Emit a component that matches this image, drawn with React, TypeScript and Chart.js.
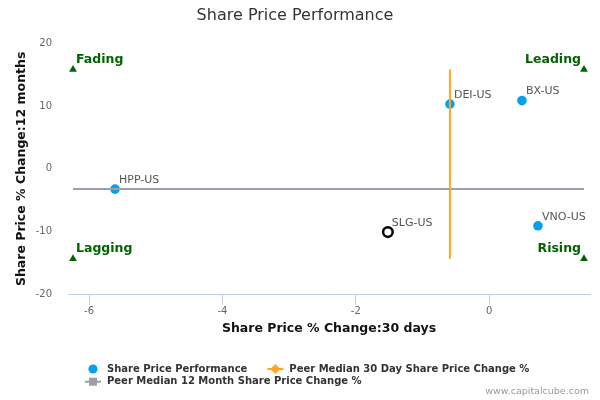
import React, { useEffect, useRef } from 'react';
import { Chart, registerables } from 'chart.js';

Chart.register(...registerables);

// ---- Data ----
const companies = ['HPP-US', 'DEI-US', 'BX-US', 'SLG-US', 'VNO-US'];
const change30d = [-5.61, -0.59, 0.49, -1.52, 0.73];
const change12m = [-3.22, 10.3, 10.85, -10.05, -9.05];
const highlighted = 'SLG-US';

const peerMedian30d = -0.59;
const peerMedian12m = -3.22;

const quadrantLabels = ['Fading', 'Leading', 'Lagging', 'Rising'];
const quadrantX = [-6.24, 1.42, -6.24, 1.42];
const quadrantY = [15.8, 15.8, -14.3, -14.3];

const xTickValues = [-6, -4, -2, 0];
const yTickValues = [-20, -10, 0, 10, 20];
const xRange = [-6.315, 1.51];
const yRange = [-20, 20];

const titleText = 'Share Price Performance';
const xTitle = 'Share Price % Change:30 days';
const yTitle = 'Share Price % Change:12 months';
const legendLabels = [
  'Share Price Performance',
  'Peer Median 30 Day Share Price Change %',
  'Peer Median 12 Month Share Price Change %',
];
const creditText = 'www.capitalcube.com';

// ---- Styles ----
const FONT = '"DejaVu Sans", Verdana, sans-serif';
const BLUE = '#08a0ee';
const ORANGE = '#ffa51f';
const GRAY = '#9a9fab';
const GREEN = '#006400';

export default function App() {
  const ref = useRef<HTMLCanvasElement>(null);

  useEffect(() => {
    document.body.style.margin = '0';
    const canvas = ref.current!;

    const annotations = {
      id: 'annotations',
      afterDatasetsDraw(chart: any) {
        const { ctx, scales } = chart;
        const x = scales.x;
        const y = scales.y;
        ctx.save();
        // point labels
        ctx.font = `11px ${FONT}`;
        ctx.fillStyle = '#555';
        ctx.textBaseline = 'middle';
        ctx.textAlign = 'left';
        companies.forEach((c, i) => {
          const px = x.getPixelForValue(change30d[i]);
          const py = y.getPixelForValue(change12m[i]);
          ctx.fillText(c, px + 4, py - 9);
        });
        // quadrant labels
        ctx.font = `bold 12.5px ${FONT}`;
        ctx.fillStyle = GREEN;
        quadrantLabels.forEach((q, i) => {
          const px = x.getPixelForValue(quadrantX[i]);
          const py = y.getPixelForValue(quadrantY[i]);
          const isLeft = i % 2 === 0;
          ctx.textAlign = isLeft ? 'left' : 'right';
          ctx.fillText(q, isLeft ? px + 3 : px - 3, py - 10);
        });
        ctx.restore();
      },
      afterDraw(chart: any) {
        const { ctx } = chart;
        ctx.save();
        ctx.font = `bold 10px ${FONT}`;
        ctx.textBaseline = 'middle';
        ctx.textAlign = 'left';
        const row1 = 369;
        const row2 = 381.7;
        const startX = 85;
        // item 1: blue circle
        ctx.fillStyle = BLUE;
        ctx.beginPath();
        ctx.arc(startX + 8, row1, 4.6, 0, Math.PI * 2);
        ctx.fill();
        ctx.fillStyle = '#333';
        ctx.fillText(legendLabels[0], startX + 22, row1);
        const w1 = ctx.measureText(legendLabels[0]).width;
        // item 2: orange line with diamond
        const x2 = startX + 22 + w1 + 20;
        ctx.strokeStyle = ORANGE;
        ctx.lineWidth = 2;
        ctx.beginPath();
        ctx.moveTo(x2, row1);
        ctx.lineTo(x2 + 16, row1);
        ctx.stroke();
        ctx.fillStyle = ORANGE;
        ctx.beginPath();
        ctx.moveTo(x2 + 8, row1 - 5);
        ctx.lineTo(x2 + 13, row1);
        ctx.lineTo(x2 + 8, row1 + 5);
        ctx.lineTo(x2 + 3, row1);
        ctx.closePath();
        ctx.fill();
        ctx.fillStyle = '#333';
        ctx.fillText(legendLabels[1], x2 + 22, row1);
        // item 3: gray line with square
        ctx.strokeStyle = GRAY;
        ctx.beginPath();
        ctx.moveTo(startX, row2);
        ctx.lineTo(startX + 16, row2);
        ctx.stroke();
        ctx.fillStyle = GRAY;
        ctx.fillRect(startX + 4, row2 - 4, 8, 8);
        ctx.fillStyle = '#333';
        ctx.fillText(legendLabels[2], startX + 22, row2);
        // credits
        ctx.font = `9.5px ${FONT}`;
        ctx.fillStyle = '#999';
        ctx.textAlign = 'right';
        ctx.fillText(creditText, 589, 392);
        ctx.restore();
      },
    };

    const pointColors = companies.map((c) => (c === highlighted ? '#ffffff' : BLUE));
    const pointBorders = companies.map((c) => (c === highlighted ? '#000000' : BLUE));
    const pointBorderWidths = companies.map((c) => (c === highlighted ? 2.5 : 0));

    const yMedLine = [Math.max(...quadrantY), Math.min(...quadrantY)];
    const xMedLine = [Math.min(...quadrantX), Math.max(...quadrantX)];

    const chart = new Chart(canvas, {
      type: 'scatter',
      data: {
        datasets: [
          {
            label: legendLabels[1],
            type: 'line',
            data: yMedLine.map((v) => ({ x: peerMedian30d, y: v })),
            borderColor: ORANGE,
            borderWidth: 2,
            pointRadius: 0,
            order: 1,
          } as any,
          {
            label: legendLabels[2],
            type: 'line',
            data: xMedLine.map((v) => ({ x: v, y: peerMedian12m })),
            borderColor: GRAY,
            borderWidth: 2,
            pointRadius: 0,
            order: 1,
          } as any,
          {
            label: legendLabels[0],
            data: companies.map((_, i) => ({ x: change30d[i], y: change12m[i] })),
            backgroundColor: pointColors,
            borderColor: pointBorders,
            borderWidth: pointBorderWidths,
            pointRadius: 4.8,
            order: 2,
          },
          {
            label: 'Quadrants',
            data: quadrantLabels.map((_, i) => ({ x: quadrantX[i], y: quadrantY[i] })),
            backgroundColor: GREEN,
            borderColor: GREEN,
            borderWidth: 0,
            pointStyle: 'triangle',
            pointRadius: 4.5,
            order: 3,
          },
        ],
      },
      options: {
        animation: false,
        responsive: false,
        devicePixelRatio: 1,
        layout: { padding: { left: 0, right: 10, top: 0, bottom: 64.2 } },
        plugins: {
          legend: { display: false },
          tooltip: { enabled: false },
          title: {
            display: true,
            text: titleText,
            color: '#333',
            font: { family: FONT, size: 16, weight: 'normal', lineHeight: 1.2 },
            padding: { top: 6.4, bottom: 17.4 },
          },
        },
        scales: {
          x: {
            type: 'linear',
            min: xRange[0],
            max: xRange[1],
            afterBuildTicks: (s: any) => {
              s.ticks = xTickValues.map((v) => ({ value: v }));
            },
            afterFit: (s: any) => {
              s.height = 41.1;
            },
            grid: {
              drawOnChartArea: false,
              drawTicks: true,
              tickLength: 10,
              color: '#c0d0e0',
            },
            border: { display: true, color: '#c0d0e0', width: 1 },
            ticks: {
              color: '#666',
              font: { family: FONT, size: 10 },
              padding: 1,
              maxRotation: 0,
            },
            title: {
              display: true,
              text: xTitle,
              color: '#111',
              font: { family: FONT, size: 12.5, weight: 'bold', lineHeight: 1.2 },
              padding: { top: 0, bottom: 0 },
            },
          },
          y: {
            type: 'linear',
            min: yRange[0],
            max: yRange[1],
            afterBuildTicks: (s: any) => {
              s.ticks = yTickValues.map((v) => ({ value: v }));
            },
            afterFit: (s: any) => {
              s.width = 68;
            },
            grid: { display: false, drawTicks: false },
            border: { display: false },
            ticks: {
              color: '#666',
              font: { family: FONT, size: 10 },
              padding: 16,
            },
            title: {
              display: true,
              text: yTitle,
              color: '#111',
              font: { family: FONT, size: 12.5, weight: 'bold', lineHeight: 1.2 },
              padding: { top: 14, bottom: 0 },
            },
          },
        },
      },
      plugins: [annotations],
    });

    return () => chart.destroy();
  }, []);

  return <canvas ref={ref} width={600} height={400} style={{ display: 'block' }} />;
}
